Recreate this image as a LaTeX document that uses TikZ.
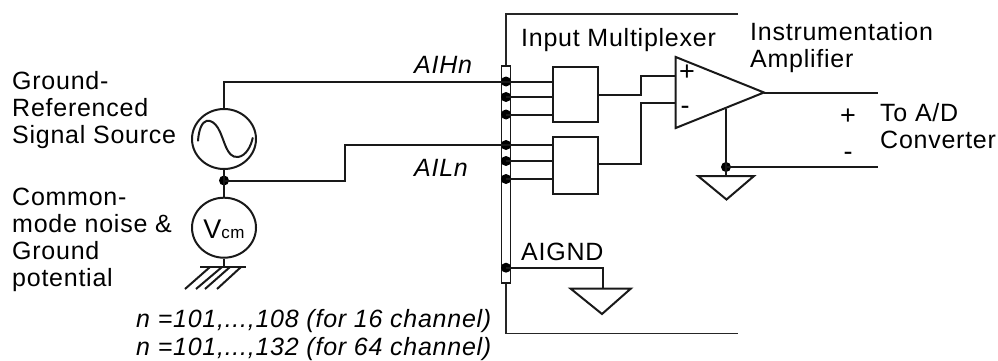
\documentclass[tikz,border=0pt]{standalone}
\usepackage{fontspec}
\setmainfont{Liberation Sans}[LetterSpace=3]
\usetikzlibrary{shapes.geometric}
\begin{document}
\begin{tikzpicture}[x=1pt,y=-1pt,
  wire/.style={draw=black!90,line width=2pt},
  thin wire/.style={draw=black!85,line width=1.6pt},
  junction/.style={circle,fill=black,inner sep=0pt,minimum size=10pt},
  muxbox/.style={draw=black!90,line width=2pt,fill=white,inner sep=0pt,minimum width=45pt},
  srccircle/.style={ellipse,draw=black!90,line width=2pt,inner sep=0pt,minimum width=64pt,minimum height=60pt},
  lbl/.style={inner sep=0pt,anchor=base west,font=\fontsize{25}{27}\selectfont,text=black},
  mlbl/.style={lbl,align=left,anchor=north west},
  ital/.style={lbl,font=\fontsize{25}{27}\selectfont\itshape},
  sign/.style={inner sep=0pt,font=\fontsize{27}{27}\selectfont}]
\useasboundingbox (0,0) rectangle (998,361);
% enclosure
\coordinate (encTR) at (738,14);
\coordinate (encTL) at (506,14);
\coordinate (encBL) at (506,333.5);
\coordinate (encBR) at (738,333.5);
\node[draw=black!90,line width=1.6pt,fill=white,inner sep=0pt,minimum width=9pt,minimum height=217pt] (strip) at (506,174.5) {};
\draw[thin wire] (encTR) -- (encTL) -- (strip.north);
\draw[thin wire] (strip.south) -- (encBL) -- (encBR);
% junctions on strip
\node[junction] (h1) at (506,81.5) {};
\node[junction] (h2) at (506,97) {};
\node[junction] (h3) at (506,114.5) {};
\node[junction] (l1) at (506,145) {};
\node[junction] (l2) at (506,161) {};
\node[junction] (l3) at (506,179) {};
\node[junction] (ag) at (506,267.7) {};
% mux
\node[muxbox,minimum height=54pt] (m1) at (575.5,94.5) {};
\node[muxbox,minimum height=57pt] (m2) at (575.5,165.5) {};
\foreach \a in {h1,h2,h3}{\draw[wire] (\a.center) -- (\a.center -| m1.west);}
\foreach \a in {l1,l2,l3}{\draw[wire] (\a.center) -- (\a.center -| m2.west);}
% op amp
\coordinate (oa1) at (675.7,57);
\coordinate (oa2) at (675.7,128);
\coordinate (oa3) at (764,92.5);
\draw[wire,line join=miter] (oa1) -- (oa3) -- (oa2) -- cycle;
\coordinate (ip) at (675.7,76);
\coordinate (im) at (675.7,103);
\coordinate (bend) at (640.7,0);
\draw[wire] (m1.east) -- (bend |- m1.east) -- (bend |- ip) -- (ip);
\draw[wire] (m2.east |- 0,163.5) -- (bend |- 0,163.5) -- (bend |- im) -- (im);
\node[sign] (plus) at (687,72.7) {+};
\node[sign] (minus) at (685,110.7) {-};
% output
\coordinate (outa) at (878,92.5);
\coordinate (outb) at (878,167);
\draw[wire] (oa3) -- (outa);
\coordinate (oaT) at (726,109);
\node[junction] (gj) at (726,167) {};
\draw[wire] (oaT) -- (gj.center);
\draw[wire] (gj.center) -- (outb);
% amplifier ground
\coordinate (g1a) at (698,176);
\coordinate (g1b) at (754,176);
\coordinate (g1c) at (726.5,199.5);
\draw[wire] (g1a) -- (g1b) -- (g1c) -- cycle;
\draw[wire] (gj.center) -- (726,176);
% AIGND
\coordinate (g2a) at (570.7,288.7);
\coordinate (g2b) at (630.7,288.7);
\coordinate (g2c) at (602,314);
\coordinate (g2t) at (603,288.7);
\draw[wire] (g2a) -- (g2b) -- (g2c) -- cycle;
\draw[wire] (ag.center) -- (g2t |- ag.center) -- (g2t);
% sources
\node[srccircle] (src) at (224,139) {};
\node[srccircle] (vcm) at (224,227.7) {};
\node[junction] (sj) at (224,180.5) {};
\draw[wire] (src.north) -- (src.north |- h1) -- (h1.center);
\draw[wire] (src.south) -- (sj.center) -- (vcm.north);
\coordinate (lb) at (345,0);
\draw[wire] (sj.center) -- (lb |- sj.center) -- (lb |- l1) -- (l1.center);
\draw[wire,line cap=round] (198,140.7) .. controls (200,115) and (212,118) .. (218,128) .. controls (225,140) and (226,158) .. (238,157) .. controls (246,156) and (251,146) .. (252.7,138);
\node[inner sep=0pt,anchor=base,font=\fontsize{27}{27}\selectfont] (vlab) at (224,238) {V\fontsize{17}{17}\selectfont cm};
% earth
\coordinate (e0) at (224,267);
\draw[wire] (vcm.south) -- (e0);
\draw[wire] (200,267) -- (246,267);
\foreach \a/\b in {185/210,196/222,205/230,217/241}{\draw[wire] (\a,289) -- (\b,267);}
% labels
\node[mlbl] (t1) at (12,71.5) {Ground-\\Referenced\\Signal Source};
\node[mlbl] (t2) at (12,188) {Common-\\mode noise \&\\Ground\\potential};
\node[lbl] (t3) at (521,46.7) {Input Multiplexer};
\node[mlbl] (t4) at (750,22.5) {Instrumentation\\Amplifier};
\node[ital] (t5) at (414,74) {AIHn};
\node[ital] (t6) at (414,176.7) {AILn};
\node[lbl] (t7) at (521,260) {AIGND};
\node[mlbl] (t8) at (880,103.5) {To A/D\\Converter};
\node[sign] (pl2) at (848,117) {+};
\node[sign] (mi2) at (848,156) {-};
\node[ital,anchor=base west] (t9) at (136,327) {n =101,...,108 (for 16 channel)};
\node[ital,anchor=base west] (t10) at (136,355) {n =101,...,132 (for 64 channel)};
\end{tikzpicture}
\end{document}
